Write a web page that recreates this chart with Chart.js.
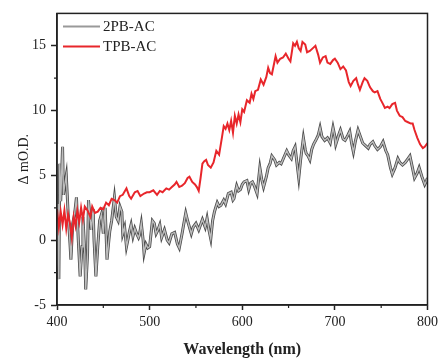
<!DOCTYPE html>
<html>
<head>
<meta charset="utf-8">
<script src="https://cdn.jsdelivr.net/npm/chart.js@4.4.1/dist/chart.umd.min.js"></script>
<style>
  html, body { margin: 0; padding: 0; background: #fff; }
  canvas { display: block; }
</style>
</head>
<body>
<canvas id="spectra-chart" width="442" height="358"></canvas>
<script>
// ===== DATA =====
const wlGray = [400, 401, 402, 403, 404, 406, 407, 408, 410, 412, 414, 415, 417, 419, 421, 423, 425, 427, 428, 430,
  431, 433, 434, 436, 437, 439, 440, 442, 444, 446, 448, 450, 451, 452, 454, 456, 457, 459, 460, 462,
  464, 466, 468, 470, 471, 473, 475, 477, 478, 480, 482, 484, 486, 488, 489, 491, 493, 494, 496, 498,
  500, 503, 505, 507, 509, 511, 513, 516, 519, 521, 524, 527, 530, 532, 535, 537, 539, 541, 543, 545,
  547, 550, 553, 555, 557, 560, 562, 564, 566, 568, 570, 573, 575, 577, 580, 582, 585, 588, 590, 591,
  594, 596, 598, 600, 602, 605, 607, 609, 611, 613, 616, 619, 621, 623, 626, 628, 630, 632, 635, 637,
  640, 642, 645, 648, 650, 653, 655, 657, 659, 661, 663, 666, 668, 669, 671, 673, 675, 677, 680, 682,
  684, 686, 689, 692, 695, 698, 700, 701, 704, 706, 709, 711, 714, 716, 718, 720, 722, 725, 728, 730,
  733, 736, 738, 741, 743, 746, 749, 752, 755, 757, 760, 762, 765, 768, 770, 773, 776, 779, 781, 784,
  786, 789, 791, 794, 797, 799, 800];
const odGray = [2.8, -1.8, -3.0, 5.9, 3.0, 7.2, 3.5, 4.1, 5.0, 2.1, -0.2, -1.5, 1.3, 2.0, 3.3, 0.0, -2.8, -0.5, 1.8, -1.0,
  -3.8, -1.0, 3.1, 1.5, 0.8, 2.4, 0.0, -2.8, -0.5, 1.5, 2.0, 0.5, 1.8, 2.5, -1.5, 0.0, 0.7, 1.5, 2.1, 3.3,
  1.8, 1.5, 2.6, 2.2, 0.5, 1.0, -0.5, 0.2, 0.6, 1.2, 0.3, 0.9, 0.5, 0.2, 0.4, 1.3, 0.0, -1.0, -0.3, -0.6,
  -0.5, 1.5, 1.3, 0.5, 0.8, 1.2, 0.2, 0.8, 0.0, -0.2, 0.5, 0.6, -0.3, -0.6, 0.5, 1.3, 2.1, 1.5, 1.0, 0.5,
  1.0, 1.3, 0.8, 1.2, 1.6, 1.0, 1.7, 0.8, 0.1, 1.5, 2.2, 2.9, 2.6, 2.7, 3.1, 2.8, 3.6, 3.7, 3.1, 3.2,
  4.2, 3.8, 3.9, 4.3, 4.5, 4.6, 3.9, 4.4, 4.5, 4.2, 3.6, 5.6, 4.7, 4.1, 4.9, 5.6, 5.9, 6.5, 6.2, 5.8,
  6.0, 5.9, 6.4, 6.9, 6.6, 6.3, 6.9, 7.2, 6.0, 4.8, 6.2, 7.9, 7.0, 6.7, 6.5, 6.2, 7.0, 7.4, 7.8, 8.1,
  8.7, 8.0, 7.7, 7.9, 7.5, 8.7, 8.0, 7.4, 8.1, 8.5, 7.8, 7.7, 8.1, 8.4, 7.5, 6.8, 7.6, 8.5, 7.9, 7.5,
  7.3, 7.1, 7.4, 7.6, 7.3, 7.0, 7.2, 7.6, 6.9, 6.6, 5.6, 5.1, 5.6, 6.3, 6.0, 5.8, 6.0, 6.3, 6.5, 5.5,
  4.8, 5.2, 5.6, 4.9, 4.3, 4.6, 4.8];

const wlRed = [400, 402, 404, 406, 408, 410, 412, 414, 416, 418, 420, 422, 424, 426, 428, 430, 433, 436, 438, 441,
  444, 447, 450, 453, 456, 459, 462, 465, 468, 471, 475, 478, 480, 484, 487, 490, 494, 497, 500, 504,
  508, 511, 514, 518, 521, 524, 527, 529, 532, 535, 538, 541, 543, 546, 549, 551, 553, 555, 557, 559,
  561, 563, 566, 569, 572, 575, 578, 580, 582, 584, 586, 588, 590, 592, 594, 596, 598, 600, 602, 605,
  608, 610, 612, 614, 617, 620, 623, 626, 628, 630, 632, 634, 636, 638, 641, 644, 647, 650, 652, 655,
  657, 659, 661, 663, 665, 668, 670, 673, 676, 679, 682, 684, 687, 690, 692, 695, 698, 700, 703, 706,
  709, 712, 715, 717, 720, 723, 725, 727, 730, 732, 735, 738, 741, 743, 746, 749, 752, 754, 757, 759,
  762, 765, 767, 770, 773, 776, 779, 782, 784, 786, 789, 792, 795, 797, 800];
const odRed = [2.4, 1.0, 2.2, 1.2, 2.3, 0.9, 2.0, 1.3, 0.2, 1.8, 1.1, 2.3, 1.4, 2.5, 1.6, 2.6, 2.3, 1.8, 2.6, 2.1,
  2.2, 2.5, 2.4, 2.9, 2.7, 3.2, 3.1, 2.9, 3.4, 3.5, 4.0, 3.4, 3.2, 3.7, 3.8, 3.4, 3.6, 3.7, 3.7, 3.85,
  3.5, 3.8, 3.7, 4.0, 3.9, 4.1, 4.3, 4.5, 4.1, 4.2, 4.4, 4.8, 4.9, 4.5, 4.3, 4.1, 3.8, 4.8, 5.9, 6.1,
  6.2, 5.8, 5.6, 6.0, 6.9, 6.6, 7.9, 8.8, 8.6, 9.0, 8.5, 9.2, 8.3, 9.6, 9.0, 9.7, 9.1, 10.1, 9.9, 10.8,
  10.6, 11.3, 10.9, 11.5, 11.6, 12.4, 12.0, 12.6, 13.3, 12.9, 12.8, 13.5, 14.2, 13.7, 14.0, 14.1, 14.4, 14.0, 13.8, 15.2,
  15.0, 15.3, 14.8, 14.6, 15.3, 15.1, 14.5, 14.6, 14.8, 15.0, 14.3, 13.7, 14.1, 14.2, 13.7, 13.6, 13.9, 14.0, 13.7, 13.2,
  13.4, 13.1, 12.2, 11.9, 12.3, 12.5, 12.0, 11.6, 12.2, 12.5, 12.3, 11.8, 11.5, 11.4, 11.5, 10.9, 10.5, 10.2, 10.3, 10.2,
  10.5, 10.6, 10.0, 9.6, 9.5, 9.2, 9.1, 9.0, 9.0, 8.5, 7.9, 7.4, 7.1, 7.2, 7.5];

const xTicks = [400, 500, 600, 700, 800];
const xMinorTicks = [450, 550, 650, 750];
const yTicks = [-5, 0, 5, 10, 15];
const yMinorTicks = [-2.5, 2.5, 7.5, 12.5];

const seriesNames = ['2PB-AC', 'TPB-AC'];

// ===== STYLE =====
const SERIF = "'Liberation Serif', 'Times New Roman', serif";
const INK = '#222';
const RED = '#e8262b';
const GRAY_CORE = '#bdbdbd';
const GRAY_EDGE = '#4a4a4a';

const toPoints = (xs, ys) => xs.map((x, i) => ({ x, y: ys[i] }));

// frame, minor ticks and in-plot legend
const decorations = {
  id: 'decorations',
  afterDraw(chart) {
    const { ctx, chartArea: a, scales: { x, y } } = chart;
    ctx.save();
    ctx.strokeStyle = INK;
    ctx.lineWidth = 1.5;
    ctx.strokeRect(a.left, a.top, a.right - a.left, a.bottom - a.top);

    ctx.lineWidth = 1.2;
    ctx.beginPath();
    xMinorTicks.forEach(v => {
      const px = x.getPixelForValue(v);
      ctx.moveTo(px, a.bottom);
      ctx.lineTo(px, a.bottom + 3);
    });
    yMinorTicks.forEach(v => {
      const py = y.getPixelForValue(v);
      ctx.moveTo(a.left, py);
      ctx.lineTo(a.left - 3, py);
    });
    ctx.stroke();

    // legend
    const items = [
      { label: seriesNames[0], color: '#999' },
      { label: seriesNames[1], color: RED },
    ];
    ctx.font = `15px ${SERIF}`;
    ctx.textBaseline = 'middle';
    ctx.textAlign = 'left';
    items.forEach((it, i) => {
      const ly = a.top + 13 + i * 20;
      ctx.strokeStyle = it.color;
      ctx.lineWidth = 2;
      ctx.beginPath();
      ctx.moveTo(a.left + 6, ly);
      ctx.lineTo(a.left + 43, ly);
      ctx.stroke();
      ctx.fillStyle = INK;
      ctx.fillText(it.label, a.left + 46, ly + 1);
    });
    ctx.restore();
  },
};

new Chart(document.getElementById('spectra-chart').getContext('2d'), {
  type: 'line',
  data: {
    datasets: [
      {
        label: seriesNames[1],
        data: toPoints(wlRed, odRed),
        borderColor: RED,
        borderWidth: 2,
        pointRadius: 0,
        tension: 0,
        order: 0,
      },
      {
        label: seriesNames[0],
        data: toPoints(wlGray, odGray),
        borderColor: GRAY_CORE,
        borderWidth: 1.4,
        pointRadius: 0,
        tension: 0,
        order: 1,
      },
      {
        label: '',
        data: toPoints(wlGray, odGray),
        borderColor: GRAY_EDGE,
        borderWidth: 3,
        pointRadius: 0,
        tension: 0,
        order: 2,
      },
    ],
  },
  options: {
    responsive: false,
    devicePixelRatio: 1,
    animation: false,
    layout: { padding: { top: 13, right: 12, left: 0, bottom: 0 } },
    plugins: { legend: { display: false }, tooltip: { enabled: false } },
    scales: {
      x: {
        type: 'linear',
        min: 400,
        max: 800,
        afterBuildTicks: s => { s.ticks = xTicks.map(value => ({ value })); },
        afterFit: s => { s.height = 53; },
        grid: { drawOnChartArea: false, tickLength: 5, tickColor: INK, tickWidth: 1.5 },
        border: { color: INK, width: 1.5 },
        ticks: { color: INK, font: { family: SERIF, size: 14 }, padding: 4, maxRotation: 0 },
        title: {
          display: true,
          text: 'Wavelength (nm)',
          color: INK,
          font: { family: SERIF, size: 16, weight: 'bold', lineHeight: 1 },
          padding: { top: 0, bottom: 0 },
        },
      },
      y: {
        min: -5,
        max: 17.5,
        afterBuildTicks: s => { s.ticks = yTicks.map(value => ({ value })); },
        afterFit: s => { s.width = 57; },
        grid: { drawOnChartArea: false, tickLength: 6, tickColor: INK, tickWidth: 1.5 },
        border: { color: INK, width: 1.5 },
        ticks: { color: INK, font: { family: SERIF, size: 14 }, padding: 5 },
        title: {
          display: true,
          text: 'Δ mO.D.',
          color: INK,
          font: { family: SERIF, size: 14 },
          padding: { top: 16, bottom: 0 },
        },
      },
    },
  },
  plugins: [decorations],
});
</script>
</body>
</html>
